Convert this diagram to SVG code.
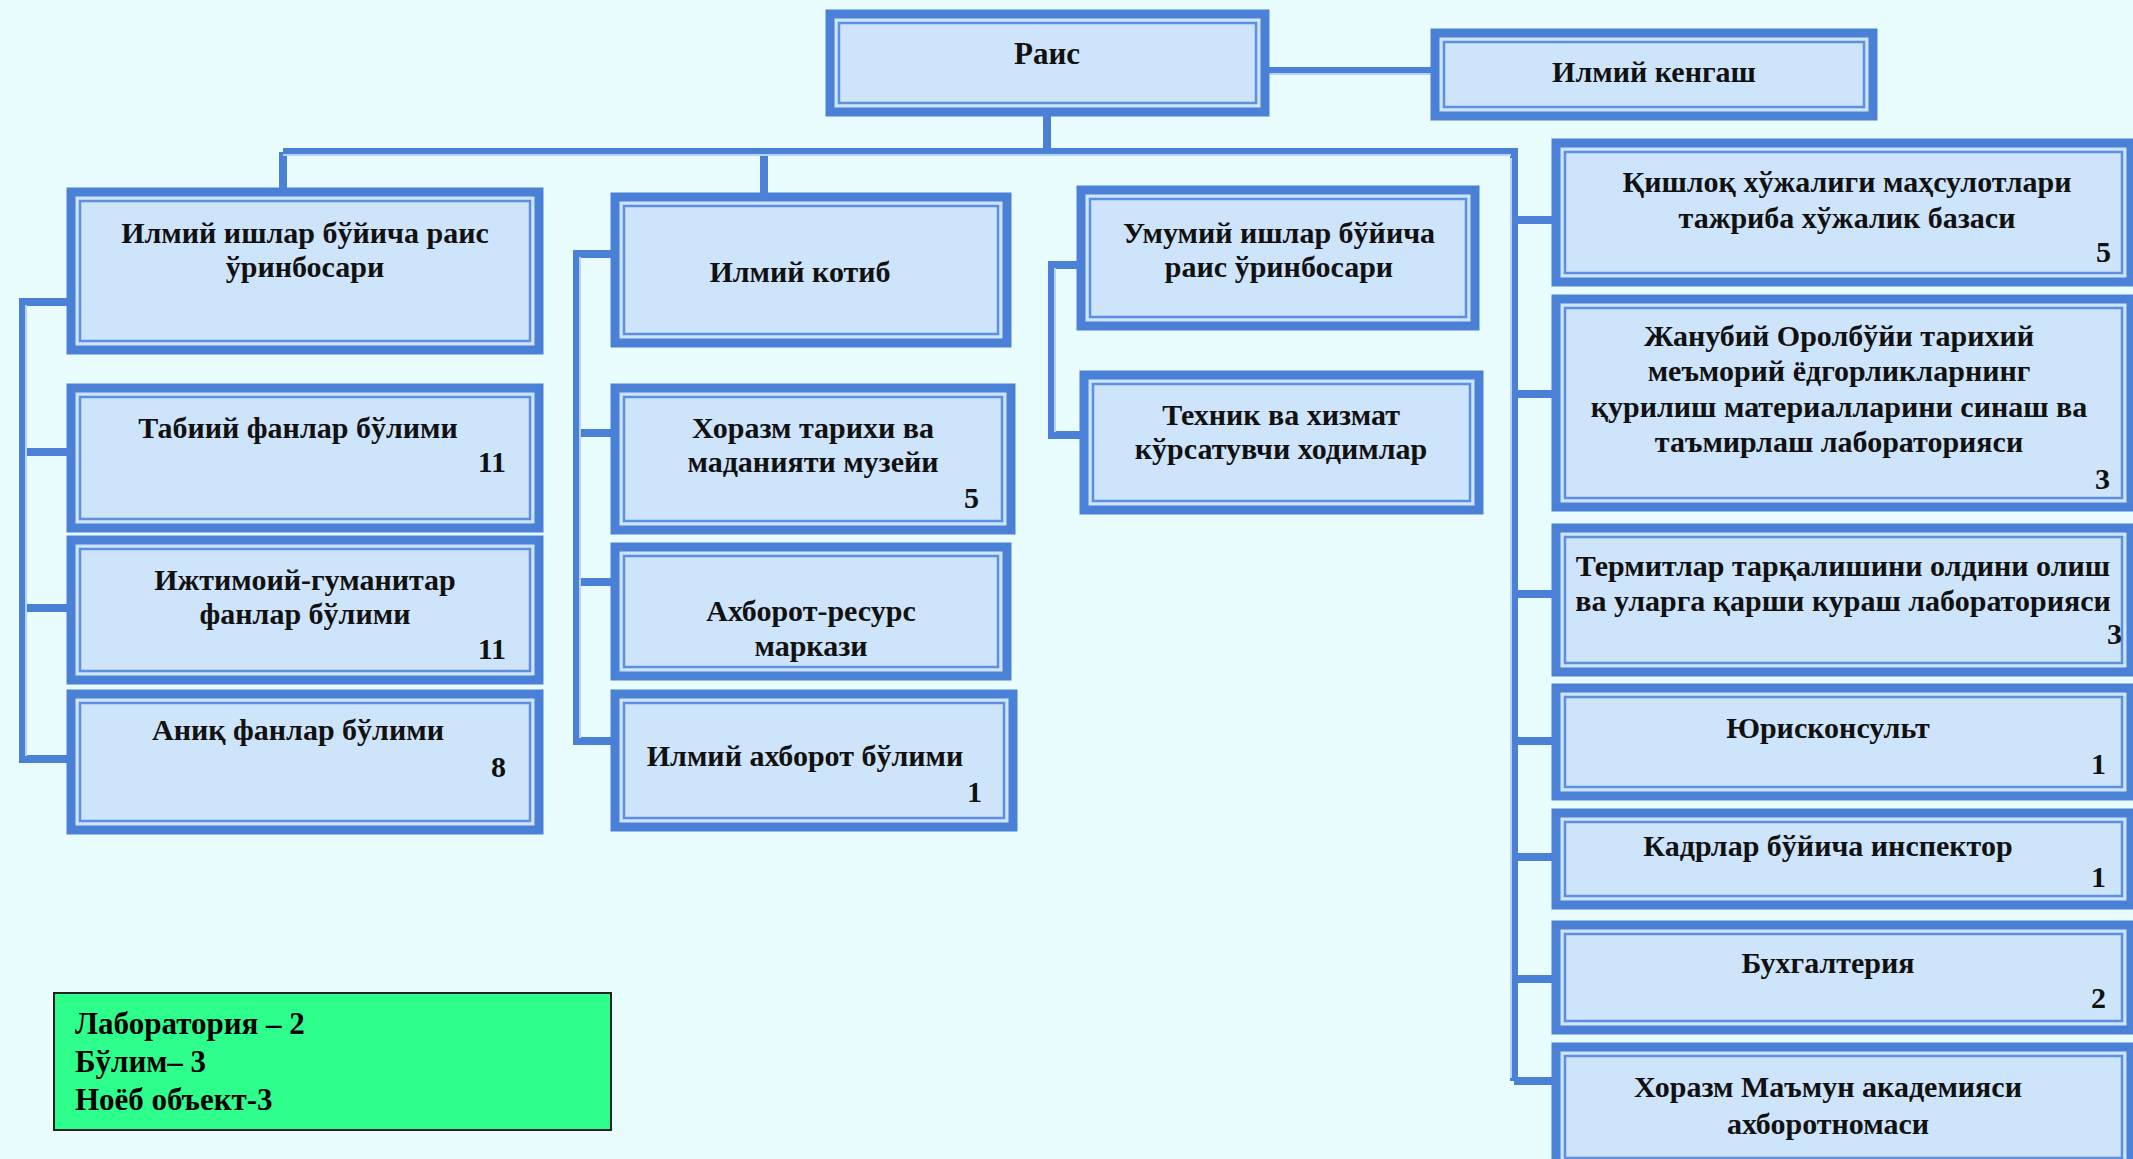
<svg xmlns="http://www.w3.org/2000/svg" width="2133" height="1159" viewBox="0 0 2133 1159">
<style>
.o{fill:#cde4fa;stroke:#4b80d7;stroke-width:9}
.i{fill:none;stroke:#5d8fe0;stroke-width:2.5}
.c{fill:none;stroke:#4b80d7;stroke-width:8}
.c2{fill:none;stroke:#b9d3f4;stroke-width:2}
text{font-family:"Liberation Serif","DejaVu Serif",serif;font-weight:bold;font-size:30px;fill:#111}
.m{text-anchor:middle}
.n{text-anchor:end}
.g text{font-size:31px;fill:#000}
</style>
<rect width="2133" height="1159" fill="#e9fdfe"/>
<g id="connectors">
<path class="c" d="M1265 71H1435M1047 112V152M283 152H1514V1081M283 152V192M764 152V200"/>
<path class="c" d="M71 302H23V759H71M23 452H71M23 608H71"/>
<path class="c" d="M615 254H577V741H615M577 433H615M577 582H615"/>
<path class="c" d="M1081 265H1052V435H1084"/>
<path class="c" d="M1514 220H1556M1514 394H1556M1514 594H1556M1514 741H1556M1514 857H1556M1514 979H1556M1514 1081H1556"/>
<path class="c2" d="M1265 74H1435M283 155H1511M26 305V756M580 257V738M1055 268V432M1511 158V1078"/>
</g>
<g id="rais"><rect class="o" x="830" y="14" width="435" height="98"/><rect class="i" x="839" y="23" width="417" height="80"/><text class="m" x="1047" y="64" style="font-size:31px">Раис</text></g>
<g id="ilmiy-kengash"><rect class="o" x="1435" y="33" width="438" height="83"/><rect class="i" x="1444" y="42" width="420" height="65"/><text class="m" x="1654" y="82">Илмий кенгаш</text></g>
<g id="ilmiy-ishlar"><rect class="o" x="71" y="192" width="468" height="158"/><rect class="i" x="80" y="201" width="450" height="140"/><text class="m" x="305" y="243">Илмий ишлар бўйича раис</text><text class="m" x="305" y="277">ўринбосари</text></g>
<g id="tabiiy"><rect class="o" x="71" y="388" width="468" height="140"/><rect class="i" x="80" y="397" width="450" height="122"/><text class="m" x="298" y="438">Табиий фанлар бўлими</text><text class="n" x="506" y="472">11</text></g>
<g id="ijtimoiy"><rect class="o" x="71" y="540" width="468" height="140"/><rect class="i" x="80" y="549" width="450" height="122"/><text class="m" x="305" y="590">Ижтимоий-гуманитар</text><text class="m" x="305" y="624">фанлар бўлими</text><text class="n" x="506" y="659">11</text></g>
<g id="aniq"><rect class="o" x="71" y="694" width="468" height="136"/><rect class="i" x="80" y="703" width="450" height="118"/><text class="m" x="298" y="740">Аниқ фанлар бўлими</text><text class="n" x="506" y="777">8</text></g>
<g id="ilmiy-kotib"><rect class="o" x="615" y="197" width="392" height="146"/><rect class="i" x="624" y="206" width="374" height="128"/><text class="m" x="800" y="282">Илмий котиб</text></g>
<g id="muzey"><rect class="o" x="615" y="388" width="396" height="142"/><rect class="i" x="624" y="397" width="378" height="124"/><text class="m" x="813" y="438">Хоразм тарихи ва</text><text class="m" x="813" y="472">маданияти музейи</text><text class="n" x="979" y="508">5</text></g>
<g id="axborot-resurs"><rect class="o" x="615" y="547" width="392" height="129"/><rect class="i" x="624" y="556" width="374" height="111"/><text class="m" x="811" y="621">Ахборот-ресурс</text><text class="m" x="811" y="656">маркази</text></g>
<g id="ilmiy-axborot"><rect class="o" x="615" y="694" width="398" height="133"/><rect class="i" x="624" y="703" width="380" height="115"/><text class="m" x="805" y="766">Илмий ахборот бўлими</text><text class="n" x="982" y="802">1</text></g>
<g id="umumiy-ishlar"><rect class="o" x="1081" y="190" width="394" height="136"/><rect class="i" x="1090" y="199" width="376" height="118"/><text class="m" x="1279" y="243">Умумий ишлар бўйича</text><text class="m" x="1279" y="277">раис ўринбосари</text></g>
<g id="texnik"><rect class="o" x="1084" y="375" width="395" height="135"/><rect class="i" x="1093" y="384" width="377" height="117"/><text class="m" x="1281" y="425">Техник ва хизмат</text><text class="m" x="1281" y="459">кўрсатувчи ходимлар</text></g>
<g id="qishloq"><rect class="o" x="1556" y="143" width="575" height="139"/><rect class="i" x="1565" y="152" width="557" height="121"/><text class="m" x="1847" y="192">Қишлоқ хўжалиги маҳсулотлари</text><text class="m" x="1847" y="228">тажриба хўжалик базаси</text><text class="n" x="2111" y="262">5</text></g>
<g id="janubiy"><rect class="o" x="1556" y="299" width="575" height="208"/><rect class="i" x="1565" y="308" width="557" height="190"/><text class="m" x="1839" y="346">Жанубий Оролбўйи тарихий</text><text class="m" x="1839" y="381">меъморий ёдгорликларнинг</text><text class="m" x="1839" y="417">қурилиш материалларини синаш ва</text><text class="m" x="1839" y="452">таъмирлаш лабораторияси</text><text class="n" x="2110" y="489">3</text></g>
<g id="termit"><rect class="o" x="1556" y="528" width="575" height="144"/><rect class="i" x="1565" y="537" width="557" height="126"/><text class="m" x="1843" y="576">Термитлар тарқалишини олдини олиш</text><text class="m" x="1843" y="611">ва уларга қарши кураш лабораторияси</text><text class="n" x="2122" y="644">3</text></g>
<g id="yuriskonsult"><rect class="o" x="1556" y="688" width="575" height="108"/><rect class="i" x="1565" y="697" width="557" height="90"/><text class="m" x="1828" y="738">Юрисконсульт</text><text class="n" x="2106" y="774">1</text></g>
<g id="kadrlar"><rect class="o" x="1556" y="813" width="575" height="92"/><rect class="i" x="1565" y="822" width="557" height="74"/><text class="m" x="1828" y="856">Кадрлар бўйича инспектор</text><text class="n" x="2106" y="887">1</text></g>
<g id="buxgalteriya"><rect class="o" x="1556" y="925" width="575" height="105"/><rect class="i" x="1565" y="934" width="557" height="87"/><text class="m" x="1828" y="973">Бухгалтерия</text><text class="n" x="2106" y="1008">2</text></g>
<g id="axborotnoma"><rect class="o" x="1556" y="1047" width="575" height="120"/><rect class="i" x="1565" y="1056" width="557" height="102"/><text class="m" x="1828" y="1097">Хоразм Маъмун академияси</text><text class="m" x="1828" y="1134">ахборотномаси</text></g>
<g id="legend" class="g"><rect x="54" y="993" width="557" height="137" fill="#2eff8c" stroke="#222" stroke-width="2"/><text x="75" y="1034">Лаборатория – 2</text><text x="75" y="1072">Бўлим– 3</text><text x="75" y="1110">Ноёб объект-3</text></g>
</svg>
